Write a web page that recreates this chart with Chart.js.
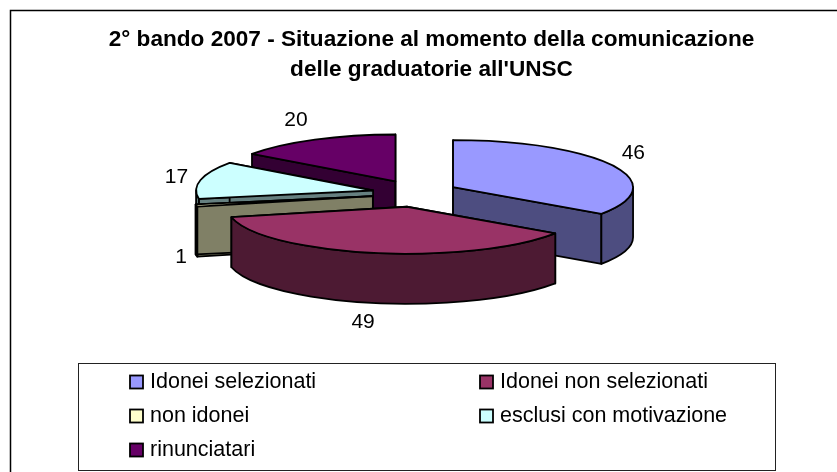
<!DOCTYPE html>
<html>
<head>
<meta charset="utf-8">
<title>2° bando 2007</title>
<style>
  html, body { margin: 0; padding: 0; background: #fff; }
  canvas { display: block; }
</style>
<script src="https://cdn.jsdelivr.net/npm/chart.js@4"></script>
</head>
<body>
<canvas id="grafico" width="837" height="472"></canvas>
<script>
const categorie = ['Idonei selezionati', 'Idonei non selezionati', 'non idonei', 'esclusi con motivazione', 'rinunciatari'];
const valori = [46, 49, 1, 17, 20];
const coloriTop = ['#9999FF', '#993366', '#FFFFCC', '#CCFFFF', '#660066'];
const coloriLato = ['#4D4D80', '#4D1A33', '#808066', '#668080', '#330033'];
const titolo = ['2° bando 2007 - Situazione al momento della comunicazione', "delle graduatorie all'UNSC"];

// pie geometry, in page pixels
const centroX = 415, centroY = 193.5, raggioY = 47, spessore = 50, staccoX = 43, staccoY = 13.5;
// back slices look a little smaller
const raggiX = [180, 180, 180, 177, 177];
// nudge of each value label from the rim of its slice
const spostaLabel = [[21, -12], [-10, 69], [-15.5, 51.5], [-24, -3], [-19, -19]];
// back slices first so the front ones cover them
const ordine = [4, 3, 2, 0, 1];

function posFetta(arc) {
    const mid = (arc.startAngle + arc.endAngle) / 2;
    return {
        x: centroX + staccoX * Math.cos(mid),
        y: centroY + staccoY * Math.sin(mid)
    };
}

function disegnaFetta(ctx, arc, i) {
    const p = posFetta(arc);
    const a0 = arc.startAngle, a1 = arc.endAngle;
    const raggioX = raggiX[i];
    ctx.lineWidth = 1.8;
    ctx.strokeStyle = '#000';
    ctx.lineJoin = 'round';
    ctx.fillStyle = coloriLato[i];

    // the two straight cut faces
    [a0, a1].forEach(a => {
        const rx = p.x + raggioX * Math.cos(a), ry = p.y + raggioY * Math.sin(a);
        ctx.beginPath();
        ctx.moveTo(p.x, p.y);
        ctx.lineTo(rx, ry);
        ctx.lineTo(rx, ry + spessore);
        ctx.lineTo(p.x, p.y + spessore);
        ctx.closePath();
        ctx.fill();
        ctx.stroke();
    });

    // curved wall, only the part facing us (canvas angle 0..PI, also one turn on)
    [0, 2 * Math.PI].forEach(giro => {
        const da = Math.max(a0, giro), fino = Math.min(a1, giro + Math.PI);
        if (fino <= da) return;
        ctx.beginPath();
        ctx.ellipse(p.x, p.y, raggioX, raggioY, 0, da, fino);
        ctx.ellipse(p.x, p.y + spessore, raggioX, raggioY, 0, fino, da, true);
        ctx.closePath();
        ctx.fill();
        ctx.stroke();
    });

    // top face: the library's own arc, squashed
    ctx.save();
    ctx.translate(p.x, p.y);
    ctx.scale(raggioX / arc.outerRadius, raggioY / arc.outerRadius);
    ctx.translate(-arc.x, -arc.y);
    arc.draw(ctx);
    ctx.restore();

    ctx.beginPath();
    ctx.moveTo(p.x, p.y);
    ctx.ellipse(p.x, p.y, raggioX, raggioY, 0, a0, a1);
    ctx.closePath();
    ctx.stroke();
}

const torta3d = {
    id: 'torta3d',
    beforeDatasetsDraw(chart) {
        const ctx = chart.ctx;
        const archi = chart.getDatasetMeta(0).data;
        ctx.save();
        ordine.forEach(i => disegnaFetta(ctx, archi[i], i));

        ctx.fillStyle = '#000';
        ctx.font = '21px "Liberation Sans"';
        ctx.textAlign = 'center';
        ctx.textBaseline = 'middle';
        archi.forEach((arc, i) => {
            const p = posFetta(arc);
            const mid = (arc.startAngle + arc.endAngle) / 2;
            ctx.fillText(String(valori[i]),
                p.x + raggiX[i] * Math.cos(mid) + spostaLabel[i][0],
                p.y + raggioY * Math.sin(mid) + spostaLabel[i][1]);
        });
        ctx.restore();
        return false;
    },
    afterDraw(chart) {
        const ctx = chart.ctx;
        ctx.save();
        // outer frame: only top and left in the picture
        ctx.strokeStyle = '#000';
        ctx.lineWidth = 1.5;
        ctx.beginPath();
        ctx.moveTo(837, 10.5);
        ctx.lineTo(10.5, 10.5);
        ctx.lineTo(10.5, 472);
        ctx.stroke();

        ctx.strokeStyle = '#222';
        ctx.lineWidth = 1;
        ctx.strokeRect(78.5, 363.5, 697, 107);

        // legend, two columns filled row by row
        ctx.font = '21.5px "Liberation Sans"';
        ctx.textBaseline = 'middle';
        ctx.textAlign = 'left';
        categorie.forEach((nome, i) => {
            const x = 130 + (i % 2) * 350;
            const y = 382 + Math.floor(i / 2) * 34;
            ctx.fillStyle = coloriTop[i];
            ctx.strokeStyle = '#000';
            ctx.lineWidth = 1.8;
            ctx.fillRect(x, y - 6.5, 13, 13);
            ctx.strokeRect(x, y - 6.5, 13, 13);
            ctx.fillStyle = '#000';
            ctx.fillText(nome, x + 20, y);
        });
        ctx.restore();
    }
};

new Chart(document.getElementById('grafico'), {
    type: 'pie',
    data: {
        labels: categorie,
        datasets: [{
            data: valori,
            backgroundColor: coloriTop,
            borderWidth: 0
        }]
    },
    options: {
        responsive: false,
        animation: false,
        layout: { padding: { top: 25, left: 26 } },
        plugins: {
            legend: { display: false },
            tooltip: { enabled: false },
            title: {
                display: true,
                text: titolo,
                color: '#000',
                font: { family: '"Liberation Sans"', size: 22.6, weight: 'bold', lineHeight: 1.33 },
                padding: 0
            }
        }
    },
    plugins: [torta3d]
});
</script>
</body>
</html>
